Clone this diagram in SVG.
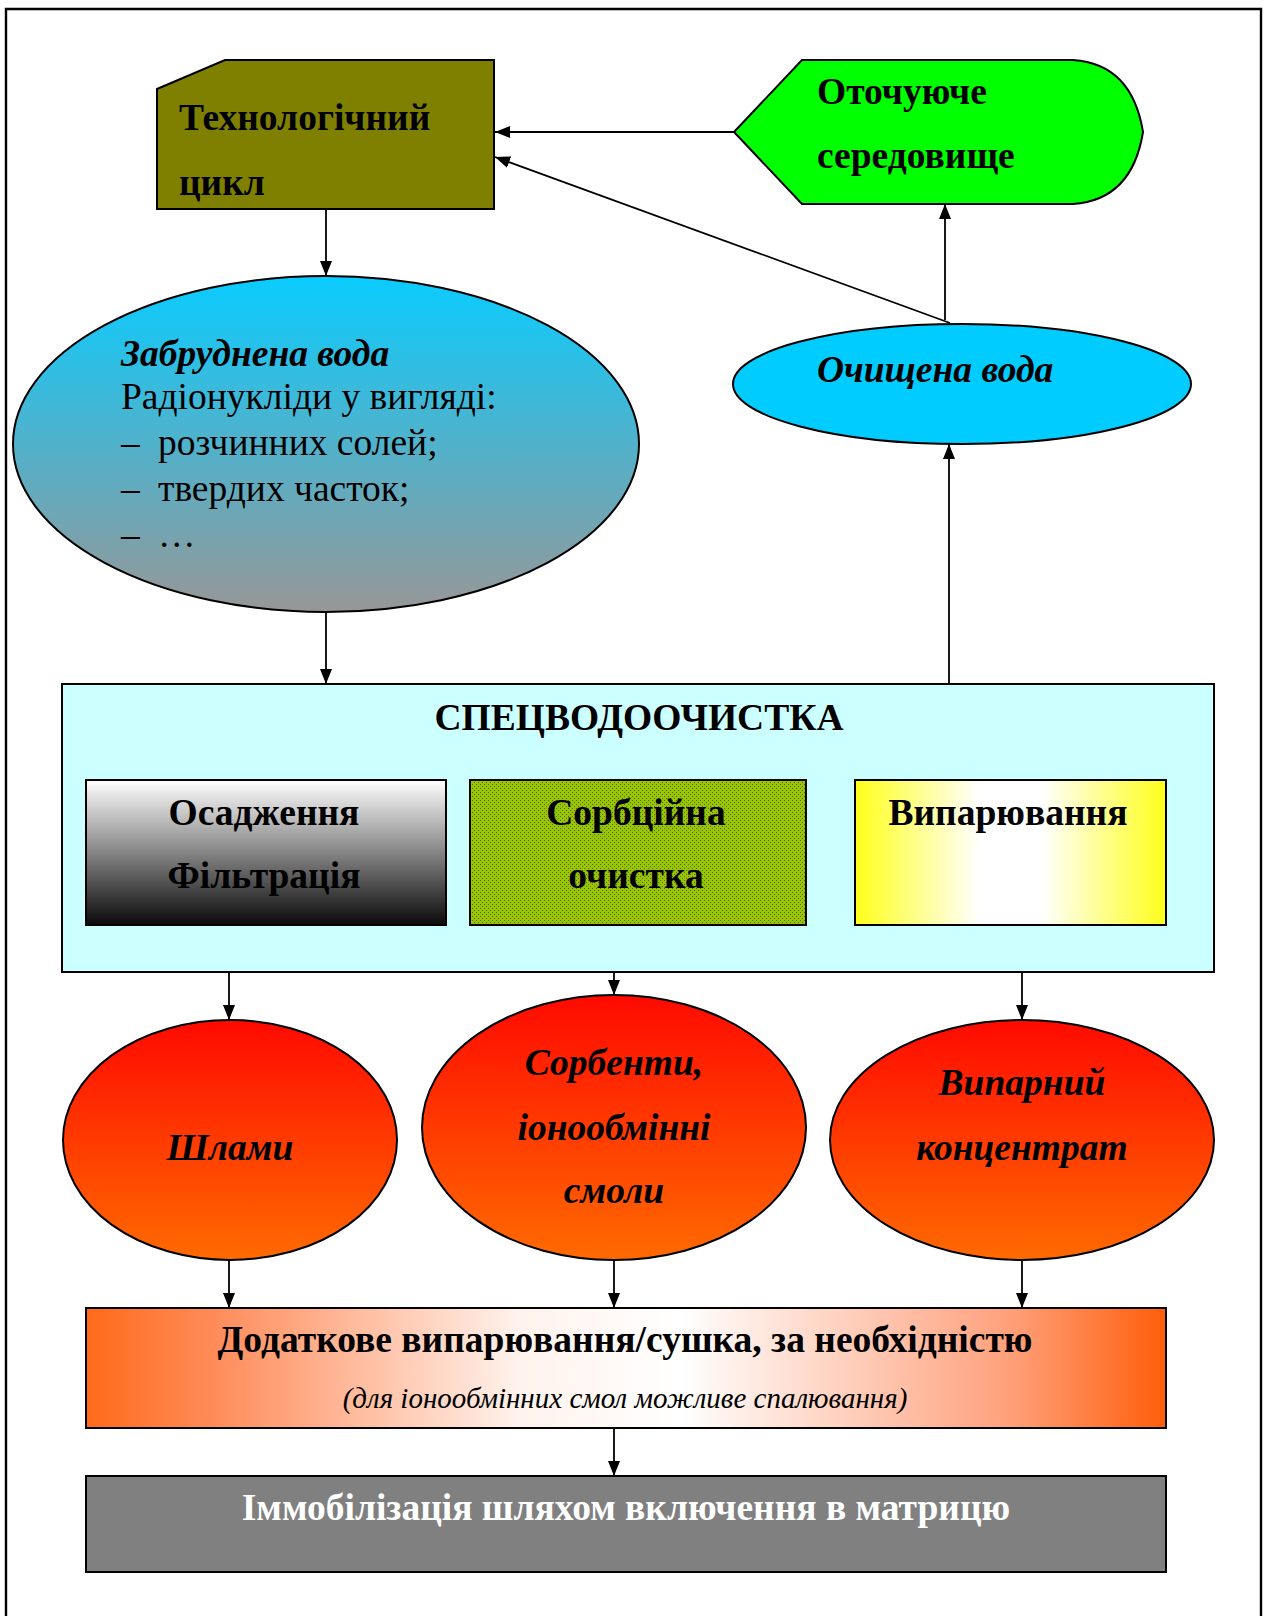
<svg xmlns="http://www.w3.org/2000/svg" width="1269" height="1616" viewBox="0 0 1269 1616">
  <style>
    .t { font-family: "Liberation Serif", "Times New Roman", serif; fill: #000; }
    .b { font-weight: bold; }
    .i { font-style: italic; }
    .edge { stroke: #000; stroke-width: 1.8; fill: none; marker-end: url(#arrow); }
    .shape { stroke: #000; stroke-width: 2; }
  </style>
  <defs>
    <marker id="arrow" markerUnits="userSpaceOnUse" markerWidth="15" markerHeight="12" refX="15" refY="6" orient="auto">
      <path d="M0,0 L15,6 L0,12 z" fill="#000"/>
    </marker>
    <linearGradient id="gBlueGrey" x1="0" y1="0" x2="0" y2="1">
      <stop offset="0" stop-color="#0ACCFF"/>
      <stop offset="1" stop-color="#979797"/>
    </linearGradient>
    <linearGradient id="gRed" x1="0" y1="0" x2="0" y2="1">
      <stop offset="0" stop-color="#FF0A00"/>
      <stop offset="1" stop-color="#FF6A00"/>
    </linearGradient>
    <linearGradient id="gWhiteBlack" x1="0" y1="0" x2="0" y2="1">
      <stop offset="0" stop-color="#FFFFFF"/>
      <stop offset="1" stop-color="#0A0A0A"/>
    </linearGradient>
    <linearGradient id="gYellow" x1="0" y1="0" x2="1" y2="0">
      <stop offset="0" stop-color="#FFFF1A"/>
      <stop offset="0.4" stop-color="#FFFFFF"/>
      <stop offset="0.6" stop-color="#FFFFFF"/>
      <stop offset="1" stop-color="#FFFF1A"/>
    </linearGradient>
    <linearGradient id="gOrange" x1="0" y1="0" x2="1" y2="0">
      <stop offset="0" stop-color="#FF6A1A"/>
      <stop offset="0.12" stop-color="#FF8C5A"/>
      <stop offset="0.4" stop-color="#FFF2EC"/>
      <stop offset="0.55" stop-color="#FFFFFF"/>
      <stop offset="0.85" stop-color="#FFA27E"/>
      <stop offset="1" stop-color="#FF5E0A"/>
    </linearGradient>
    <pattern id="pDots" width="4" height="4" patternUnits="userSpaceOnUse">
      <rect width="4" height="4" fill="#99C400"/>
      <rect x="0" y="0" width="1" height="1" fill="#4E6A00"/>
      <rect x="2" y="2" width="1" height="1" fill="#4E6A00"/>
    </pattern>
  </defs>

  <!-- page frame -->
  <path d="M6,1616 V9 H1261 V1616" fill="none" stroke="#000" stroke-width="2.4"/>

  <!-- connectors -->
  <g id="connectors">
    <line class="edge" x1="734" y1="132" x2="495" y2="132"/>
    <line class="edge" x1="950" y1="323" x2="495" y2="157"/>
    <line class="edge" x1="945" y1="320" x2="945" y2="204"/>
    <line class="edge" x1="326" y1="203" x2="326" y2="276"/>
    <line class="edge" x1="326" y1="612" x2="326" y2="684"/>
    <line class="edge" x1="949" y1="684" x2="949" y2="444"/>
    <line class="edge" x1="229" y1="925" x2="229" y2="1020"/>
    <line class="edge" x1="614" y1="925" x2="614" y2="995"/>
    <line class="edge" x1="1022" y1="925" x2="1022" y2="1020"/>
    <line class="edge" x1="229" y1="1260" x2="229" y2="1308"/>
    <line class="edge" x1="614" y1="1260" x2="614" y2="1308"/>
    <line class="edge" x1="1022" y1="1260" x2="1022" y2="1308"/>
    <line class="edge" x1="614" y1="1428" x2="614" y2="1476"/>
  </g>

  <!-- technological cycle -->
  <g id="tech-cycle">
    <path class="shape" d="M225,60 H494 V209 H157 V89 Z" fill="#808000"/>
    <text class="t b" x="179" y="130" font-size="37.5">Технологічний</text>
    <text class="t b" x="179" y="195" font-size="37.5">цикл</text>
  </g>

  <!-- environment -->
  <g id="environment">
    <path class="shape" d="M734,132 L802,60 H1073 Q1132,64 1143,132 Q1132,200 1073,204 H802 Z" fill="#00FF00"/>
    <text class="t b" x="817" y="104" font-size="37.5">Оточуюче</text>
    <text class="t b" x="817" y="168" font-size="37.5">середовище</text>
  </g>

  <!-- contaminated water -->
  <g id="dirty-water">
    <ellipse class="shape" cx="326" cy="444" rx="313" ry="168" fill="url(#gBlueGrey)" stroke-width="1.6"/>
    <text class="t b i" x="121" y="366" font-size="37.5">Забруднена вода</text>
    <text class="t" x="121" y="409" font-size="37.5">Радіонукліди у вигляді:</text>
    <text class="t" x="121" y="455" font-size="37.5">–</text>
    <text class="t" x="158" y="455" font-size="37.5">розчинних солей;</text>
    <text class="t" x="121" y="501" font-size="37.5">–</text>
    <text class="t" x="158" y="501" font-size="37.5">твердих часток;</text>
    <text class="t" x="121" y="547" font-size="37.5">–</text>
    <text class="t" x="158" y="547" font-size="37.5">…</text>
  </g>

  <!-- treated water -->
  <g id="clean-water">
    <ellipse class="shape" cx="962" cy="384" rx="229" ry="60" fill="#00CCFF" stroke-width="1.6"/>
    <text class="t b i" x="817" y="382" font-size="37.5">Очищена вода</text>
  </g>

  <!-- special water treatment -->
  <g id="treatment">
    <rect class="shape" x="62" y="684" width="1152" height="288" fill="#CCFFFF"/>
    <text class="t b" x="639" y="730" font-size="37.5" text-anchor="middle">СПЕЦВОДООЧИСТКА</text>
  </g>

  <g id="sedimentation">
    <rect class="shape" x="86" y="780" width="360" height="145" fill="url(#gWhiteBlack)"/>
    <text class="t b" x="264" y="825" font-size="37.5" text-anchor="middle">Осадження</text>
    <text class="t b" x="264" y="888" font-size="37.5" text-anchor="middle">Фільтрація</text>
  </g>

  <g id="sorption">
    <rect class="shape" x="470" y="780" width="336" height="145" fill="url(#pDots)"/>
    <text class="t b" x="636" y="825" font-size="37.5" text-anchor="middle">Сорбційна</text>
    <text class="t b" x="636" y="888" font-size="37.5" text-anchor="middle">очистка</text>
  </g>

  <g id="evaporation">
    <rect class="shape" x="855" y="780" width="311" height="145" fill="url(#gYellow)"/>
    <text class="t b" x="1008" y="825" font-size="37.5" text-anchor="middle">Випарювання</text>
  </g>

  <!-- waste products -->
  <g id="sludge">
    <ellipse class="shape" cx="230" cy="1140" rx="167" ry="120" fill="url(#gRed)" stroke-width="1.6"/>
    <text class="t b i" x="230" y="1160" font-size="37.5" text-anchor="middle">Шлами</text>
  </g>

  <g id="sorbents">
    <ellipse class="shape" cx="614" cy="1127.5" rx="192" ry="132.5" fill="url(#gRed)" stroke-width="1.6"/>
    <text class="t b i" x="614" y="1075" font-size="37.5" text-anchor="middle">Сорбенти,</text>
    <text class="t b i" x="614" y="1140" font-size="37.5" text-anchor="middle">іонообмінні</text>
    <text class="t b i" x="614" y="1203" font-size="37.5" text-anchor="middle">смоли</text>
  </g>

  <g id="concentrate">
    <ellipse class="shape" cx="1022" cy="1140" rx="192" ry="120" fill="url(#gRed)" stroke-width="1.6"/>
    <text class="t b i" x="1022" y="1095" font-size="37.5" text-anchor="middle">Випарний</text>
    <text class="t b i" x="1022" y="1160" font-size="37.5" text-anchor="middle">концентрат</text>
  </g>

  <!-- additional drying -->
  <g id="drying">
    <rect class="shape" x="86" y="1308" width="1080" height="120" fill="url(#gOrange)"/>
    <text class="t b" x="625" y="1352" font-size="37.5" text-anchor="middle">Додаткове випарювання/сушка, за необхідністю</text>
    <text class="t i" x="625" y="1408" font-size="29" text-anchor="middle">(для іонообмінних смол можливе спалювання)</text>
  </g>

  <!-- immobilisation -->
  <g id="immobilisation">
    <rect class="shape" x="86" y="1476" width="1080" height="96" fill="#808080"/>
    <text class="t b" x="626" y="1520" font-size="37.5" text-anchor="middle" style="fill:#FFFFFF">Іммобілізація шляхом включення в матрицю</text>
  </g>
</svg>
